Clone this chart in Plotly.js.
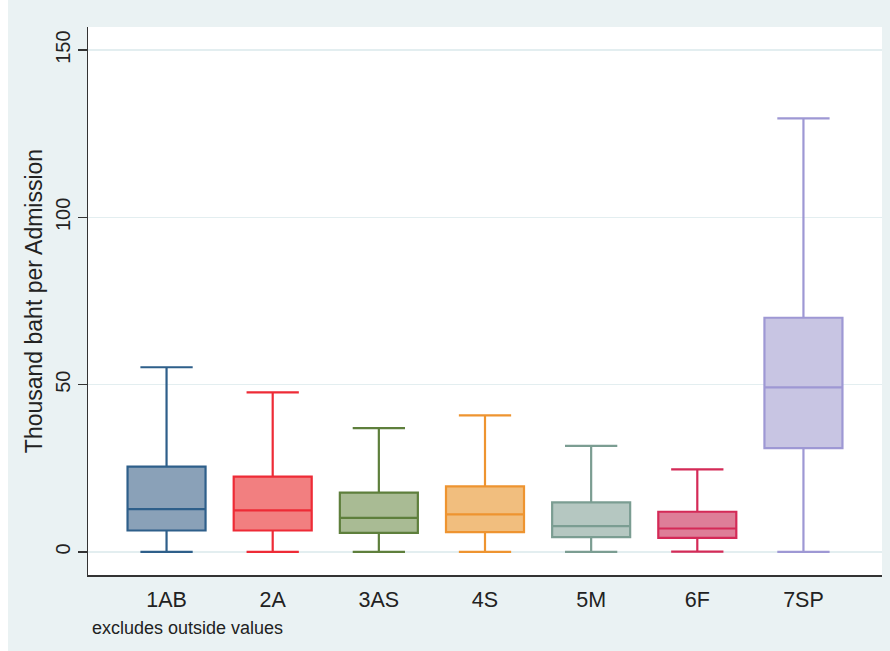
<!DOCTYPE html>
<html>
<head>
<meta charset="utf-8">
<script src="https://cdn.plot.ly/plotly-3.0.1.min.js"></script>
<style>
html,body{margin:0;padding:0;background:#ffffff;width:890px;height:651px;overflow:hidden;}
#chart{position:absolute;left:8px;top:0;width:882px;height:651px;}
</style>
</head>
<body>
<div id="chart"></div>
<script>
const categories = ["1AB","2A","3AS","4S","5M","6F","7SP"];
const lowerFence = [0, 0, 0, 0, 0, 0.1, 0];
const q1Values = [6.4, 6.4, 5.7, 5.9, 4.4, 4.2, 31.0];
const medianValues = [12.8, 12.4, 10.2, 11.2, 7.7, 7.0, 49.2];
const q3Values = [25.5, 22.5, 17.7, 19.6, 14.8, 12.0, 70.0];
const upperFence = [55.2, 47.7, 37.0, 40.8, 31.7, 24.7, 129.6];
const yTickValues = [0, 50, 100, 150];
const yTickLabels = ["0", "50", "100", "150"];

const lineColors = ["#2e5f8a","#ee2b36","#5e7f3c","#ee9430","#7b9d92","#d42a57","#9e98d4"];
const fillColors = ["#8aa1b8","#f27f80","#a9bb94","#f1be7e","#b5c7c1","#de7e98","#c8c5e3"];

const traces = categories.map((c, i) => ({
  type: "box",
  name: c,
  x: [c],
  q1: [q1Values[i]],
  median: [medianValues[i]],
  q3: [q3Values[i]],
  lowerfence: [lowerFence[i]],
  upperfence: [upperFence[i]],
  width: 0.735,
  whiskerwidth: 0.67,
  boxpoints: false,
  fillcolor: fillColors[i],
  line: {color: lineColors[i], width: 2.2},
  hoverinfo: "skip",
  showlegend: false
}));

const font = "'Liberation Sans', Arial, sans-serif";

const layout = {
  width: 882,
  height: 651,
  margin: {l: 80, r: 8, t: 27, b: 76},
  paper_bgcolor: "#eaf2f3",
  plot_bgcolor: "#ffffff",
  font: {family: font, color: "#222222"},
  showlegend: false,
  xaxis: {
    type: "category",
    range: [-0.74, 6.74],
    showgrid: false,
    zeroline: false,
    showline: true,
    linecolor: "#333333",
    linewidth: 1.5,
    ticks: "",
    tickfont: {size: 21.5, family: font, color: "#222222"},
    ticklabelstandoff: 5
  },
  yaxis: {
    range: [-6.9, 156.9],
    tickvals: yTickValues,
    ticktext: yTickLabels,
    tickangle: -90,
    ticks: "outside",
    ticklen: 9,
    tickwidth: 1.3,
    tickcolor: "#333333",
    showline: true,
    linecolor: "#333333",
    linewidth: 1.5,
    showgrid: true,
    gridcolor: "#e3eef0",
    gridwidth: 1.2,
    zeroline: false,
    tickfont: {size: 20, family: font, color: "#222222"},
    title: {text: "Thousand baht per Admission", font: {size: 23, family: font, color: "#222222"}, standoff: 2}
  },
  annotations: [{
    text: "excludes outside values",
    xref: "paper", yref: "paper",
    x: 0.002, y: -0.0967,
    xanchor: "left", yanchor: "middle",
    showarrow: false,
    font: {size: 18, family: font, color: "#222222"}
  }]
};

Plotly.newPlot("chart", traces, layout, {displayModeBar: false, staticPlot: true});
</script>
</body>
</html>
